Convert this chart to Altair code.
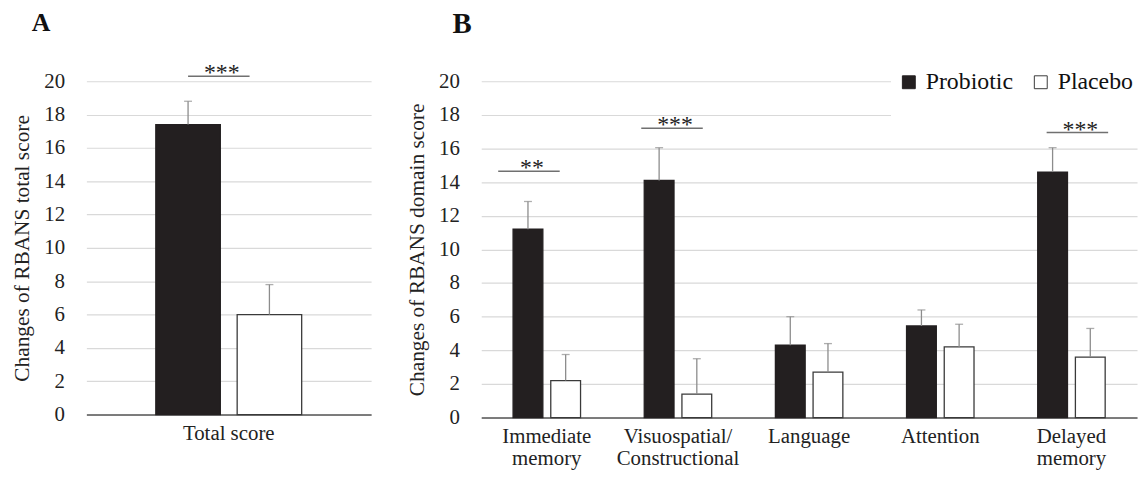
import altair as alt
import pandas as pd

FONT = "Liberation Serif"

groups = ["Probiotic", "Placebo"]

# Panel A: total score
total_cat = ["Total score"]
total_mean = [17.4, 6.0]
total_err = [18.8, 7.8]

# Panel B: domain scores
domains = ["Immediate memory", "Visuospatial/ Constructional", "Language", "Attention", "Delayed memory"]
pro_mean = [11.2, 14.1, 4.3, 5.45, 14.6]
pro_err = [12.85, 16.05, 6.0, 6.4, 16.05]
pla_mean = [2.2, 1.4, 2.7, 4.2, 3.6]
pla_err = [3.75, 3.5, 4.4, 5.55, 5.3]

# significance annotations
sig_a_cat = ["Total score"]
sig_a_y = [20.3]
sig_a_text = ["***"]
sig_b_cat = ["Immediate memory", "Visuospatial/ Constructional", "Delayed memory"]
sig_b_y = [14.65, 17.2, 16.95]
sig_b_text = ["**", "***", "***"]

# annotation horizontal shifts (style, pixels)
sig_a_shift = [-10]
sig_b_shift = [-18, -6, 6]

yvals = list(range(0, 21, 2))

dfA = pd.DataFrame({
    "cat": total_cat * 2,
    "group": groups,
    "mean": total_mean,
    "err": total_err,
})
dfB = pd.DataFrame({
    "cat": domains * 2,
    "group": [groups[0]] * 5 + [groups[1]] * 5,
    "mean": pro_mean + pla_mean,
    "err": pro_err + pla_err,
})


def panel(df, cats, width, height, pad_inner, pad_outer, off_inner, ytitle,
          sig_cat, sig_y, sig_text, sig_shift, legend, multiline, title, title_size,
          title_dx, title_offset):
    xaxis = alt.Axis(
        title=None, labelAngle=0, ticks=False, domain=True,
        domainColor="#595959", domainWidth=1.5, labelPadding=8,
        labelFontSize=21, labelColor="#222222", labelLimit=400,
        labelLineHeight=22,
        **({"labelExpr": "split(datum.label, ' ')"} if multiline else {})
    )
    xscale = alt.Scale(paddingInner=pad_inner, paddingOuter=pad_outer)
    yaxis = alt.Axis(
        title=ytitle, values=yvals, grid=True, gridColor="#d9d9d9", gridWidth=1.2,
        domain=False, ticks=False, labelPadding=22, labelFontSize=21,
        labelOverlap=False,
        labelColor="#222222", titleFontSize=21.5, titleFontWeight="normal",
        titleColor="#222222", titlePadding=10,
    )
    yscale = alt.Scale(domain=[0, 20], nice=False)

    def X():
        return alt.X("cat:N", sort=cats, scale=xscale, axis=xaxis)

    def Y(f):
        return alt.Y(f, scale=yscale, axis=yaxis)

    xoff = alt.XOffset("group:N", sort=groups,
                       scale=alt.Scale(domain=groups, paddingInner=off_inner, paddingOuter=0))
    color = alt.Color("group:N", scale=alt.Scale(domain=groups, range=["#231f20", "#ffffff"]),
                      legend=legend)
    stroke = alt.Stroke("group:N", scale=alt.Scale(domain=groups, range=["#231f20", "#3a3a3a"]),
                        legend=None)
    base = alt.Chart(df)
    bars = base.mark_bar(strokeWidth=1.3).encode(
        x=X(), xOffset=xoff, y=Y("mean:Q"), color=color, stroke=stroke)
    rules = base.mark_rule(color="#8c8c8c", strokeWidth=1.3).encode(
        x=X(), xOffset=xoff, y=Y("mean:Q"), y2="err:Q")
    caps = base.mark_tick(color="#8c8c8c", orient="horizontal", size=8, thickness=1.3).encode(
        x=X(), xOffset=xoff, y=Y("err:Q"))
    layers = [bars, rules, caps]
    for c, yv, t, s in zip(sig_cat, sig_y, sig_text, sig_shift):
        sdf = pd.DataFrame({"cat": [c], "mean": [yv], "t": [t]})
        layers.append(alt.Chart(sdf).mark_tick(orient="horizontal", size=62, thickness=1.5,
                                               color="#333333", xOffset=s).encode(
            x=X(), y=Y("mean:Q")))
        layers.append(alt.Chart(sdf).mark_text(fontSize=24, font=FONT, color="#222222",
                                               baseline="alphabetic", dy=4, xOffset=s + 3).encode(
            x=X(), y=Y("mean:Q"), text="t:N"))
    return alt.layer(*layers).properties(
        width=width, height=height,
        title=alt.TitleParams(title, anchor="start", frame="bounds", fontSize=title_size,
                              fontWeight="bold", font=FONT, color="#111111",
                              dx=title_dx, offset=title_offset),
    )


legendB = alt.Legend(
    orient="none", legendX=413, legendY=-17, direction="horizontal", title=" ",
    titleOrient="bottom", titleFontSize=14, titlePadding=4,
    symbolType="square", symbolSize=169, symbolStrokeColor="#404040", symbolStrokeWidth=1,
    labelFontSize=24, labelFont=FONT, labelColor="#111111", fillColor="white",
    padding=6, columnPadding=16, labelOffset=5,
)

chartA = panel(dfA, total_cat, 287, 336, 0.0, 0.476, 0.207, "Changes of RBANS total score",
               sig_a_cat, sig_a_y, sig_a_text, sig_a_shift, None, False, "A", 26, 20, 25.5)
chartB = panel(dfB, domains, 661, 339, 0.4856, 0.2428, 0.21, "Changes of RBANS domain score",
               sig_b_cat, sig_b_y, sig_b_text, sig_b_shift, legendB, True, "B", 29, 46, 25.7)

chart = alt.hconcat(chartA, chartB, spacing=36).resolve_scale(
    color="independent", stroke="independent", y="independent", x="independent",
    xOffset="independent",
).properties(
    padding={"left": 4, "top": 0, "right": 0, "bottom": 0}
).configure(
    font=FONT, background="white",
).configure_view(stroke=None)

chart.save("out.html", embed_options={"renderer": "svg", "actions": False})
